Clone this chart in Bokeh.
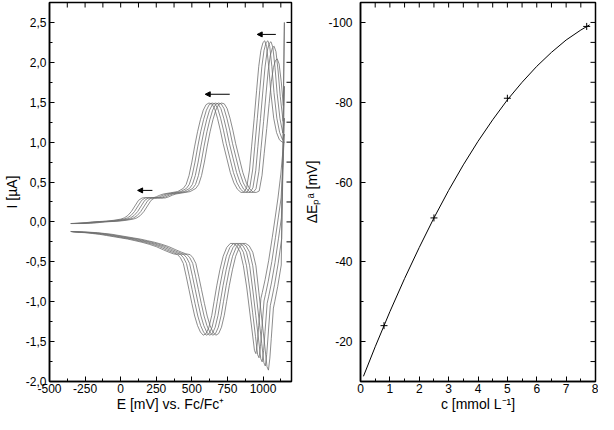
import math
from bokeh.plotting import figure
from bokeh.models import (Range1d, SingleIntervalTicker,
                          CustomJSTickFormatter, Arrow, NormalHead)
from bokeh.layouts import row
from bokeh.embed import file_html
from bokeh.resources import INLINE

# ---------------- data: cyclic voltammograms (left panel) ----------------
# base forward scan (leftmost curve), E in mV vs Fc/Fc+, I in uA
fwd_E = [-440, -350, -300, -250, -200, -150, -100, -50, 0, 25, 50, 75, 100, 125,
         150, 175, 200, 225, 250, 275, 300, 350, 400, 440, 460, 480, 500, 520,
         540, 560, 580, 600, 620, 640, 660, 680, 700, 720, 745, 770, 795, 820,
         845, 865, 885, 905, 920, 938, 955, 970, 985, 1000, 1012, 1025, 1040,
         1055, 1075, 1095, 1115, 1135, 1145]
fwd_I = [-0.02, -0.02, -0.015, -0.01, 0.0, 0.005, 0.01, 0.02, 0.035, 0.05, 0.08,
         0.13, 0.20, 0.27, 0.30, 0.305, 0.30, 0.30, 0.315, 0.335, 0.35, 0.365,
         0.38, 0.42, 0.47, 0.58, 0.75, 0.95, 1.13, 1.28, 1.40, 1.47, 1.49, 1.48,
         1.42, 1.30, 1.15, 0.98, 0.80, 0.62, 0.49, 0.41, 0.37, 0.37, 0.43, 0.65,
         0.95, 1.30, 1.65, 1.95, 2.15, 2.25, 2.27, 2.20, 1.95, 1.62, 1.30, 1.12,
         1.03, 1.00, 1.00]
# base reverse scan (leftmost curve)
rev_E = [1145, 1125, 1105, 1085, 1065, 1040, 1015, 995, 985, 970, 960, 950, 940,
         925, 905, 885, 862, 840, 815, 790, 770, 745, 720, 697, 675, 656, 640,
         620, 600, 580, 560, 540, 520, 500, 480, 460, 440, 420, 400, 370, 340,
         300, 250, 200, 150, 100, 50, 0, -50, -100, -150, -200, -250, -300, -350,
         -440]
rev_I = [1.00, 0.60, 0.30, 0.05, -0.20, -0.50, -0.75, -0.92, -1.00, -1.35, -1.58,
         -1.72, -1.68, -1.45, -1.15, -0.85, -0.55, -0.38, -0.30, -0.27, -0.27,
         -0.32, -0.43, -0.60, -0.80, -1.00, -1.17, -1.32, -1.40, -1.42, -1.38,
         -1.30, -1.18, -1.02, -0.85, -0.68, -0.52, -0.45, -0.41, -0.40, -0.38,
         -0.35, -0.31, -0.28, -0.255, -0.235, -0.215, -0.20, -0.185, -0.17,
         -0.155, -0.145, -0.135, -0.13, -0.125, -0.12]
cv_shift = [0, 22, 44, 66, 88]              # potential shift of each curve, mV
cv_I_switch = [1.0, 1.1, 1.3, 1.7, 2.5]      # current at switching potential
cv_peak2_fwd = [1.0, 1.0, 0.995, 0.97, 0.90]  # relative height of 2nd anodic peak
cv_peak2_rev = [0.96, 0.99, 1.02, 1.05, 1.08]  # relative depth of 2nd cathodic peak
E_peak2_from = 880
E_start = -350
E_switch = 1150

# arrows (start E, end E, I)
arrow_E0 = [223, 766, 1090]
arrow_E1 = [119, 594, 959]
arrow_I = [0.395, 1.60, 2.35]

# ---------------- data: peak shift vs concentration (right panel) ----------------
c_pts = [0.8, 2.5, 5.0, 7.7]
dE_pts = [-24, -51, -81, -99]
c_fit = [0.1, 0.5, 1, 1.5, 2, 2.5, 3, 3.5, 4, 4.5, 5, 5.5, 6, 6.5, 7, 7.5, 7.8]
dE_fit = [-11.3, -18.7, -27.5, -35.8, -43.6, -51.0, -57.9, -64.3, -70.2, -75.6,
          -80.6, -85.0, -89.0, -92.5, -95.6, -98.1, -99.4]

FONT = "Liberation Sans"


def style_axis(ax, standoff):
    ax.axis_line_color = "black"
    ax.axis_line_width = 1.5
    ax.major_tick_in = 5
    ax.major_tick_out = 0
    ax.minor_tick_in = 3
    ax.minor_tick_out = 0
    ax.major_tick_line_color = "black"
    ax.minor_tick_line_color = "black"
    ax.major_label_text_font = FONT
    ax.major_label_text_font_size = "12px"
    ax.major_label_text_color = "black"
    ax.major_label_text_line_height = 1.0
    ax.major_label_standoff = standoff
    ax.axis_label_text_font = FONT
    ax.axis_label_text_font_size = "14px"
    ax.axis_label_text_font_style = "normal"
    ax.axis_label_text_color = "black"
    ax.axis_label_text_line_height = 1.0


def frange(a, b, step):
    n = int(round((b - a) / step))
    return [a + k * step for k in range(n + 1)]


def mirror_ticks(p, xr, yr, xstep, ystep):
    # inward tick marks on the top and right frame edges
    xt = frange(xr[0], xr[1], xstep)
    p.ray(x=xt, y=[yr[1]] * len(xt), length=5, length_units="screen",
          angle=-math.pi / 2, line_color="black", line_width=1)
    yt = frange(yr[0], yr[1], ystep)
    p.ray(x=[xr[1]] * len(yt), y=yt, length=5, length_units="screen",
          angle=math.pi, line_color="black", line_width=1)


def base_fig(w, xr, yr, mbl, mbr):
    p = figure(width=w, height=414, x_range=Range1d(*xr), y_range=Range1d(*yr),
               output_backend="svg", toolbar_location=None,
               min_border_left=mbl, min_border_right=mbr,
               min_border_top=2, min_border_bottom=0)
    p.xgrid.grid_line_color = None
    p.ygrid.grid_line_color = None
    p.outline_line_color = "black"
    p.outline_line_width = 1.5
    p.background_fill_color = "white"
    p.border_fill_color = "white"
    return p


int_fmt = CustomJSTickFormatter(code="return Math.round(tick).toString();")
dec_fmt = CustomJSTickFormatter(
    code="if (Math.abs(tick) < 1e-9) { tick = 0; } return tick.toFixed(1).replace('.', ',');")

# ---------------- left panel ----------------
E_range = (-500, 1200)
I_range = (-2.0, 2.75)
p1 = base_fig(301, E_range, I_range, 41, 10)
p1.xaxis.ticker = SingleIntervalTicker(interval=250, num_minor_ticks=2)
p1.yaxis.ticker = SingleIntervalTicker(interval=0.5, num_minor_ticks=2)
p1.xaxis.formatter = int_fmt
p1.yaxis.formatter = dec_fmt
style_axis(p1.xaxis[0], 2)
style_axis(p1.yaxis[0], 3)
p1.xaxis.axis_label = "E [mV] vs. Fc/Fc\u207a"
p1.yaxis.axis_label = "I [\u00b5A]"
p1.xaxis.axis_label_standoff = 0
p1.yaxis.axis_label_standoff = 3
mirror_ticks(p1, E_range, I_range, 125, 0.25)

for k, s in enumerate(cv_shift):
    xs = [E_start]
    ys = [fwd_I[0]]
    for e, i in zip(fwd_E, fwd_I):
        if E_start < e + s < E_switch - 4:
            xs.append(e + s)
            ys.append(i * cv_peak2_fwd[k] if e > E_peak2_from else i)
    xs.append(E_switch)
    ys.append(cv_I_switch[k])
    for e, i in zip(rev_E, rev_I):
        if E_start < e + s < E_switch - 4:
            xs.append(e + s)
            ys.append(i * cv_peak2_rev[k] if (e > E_peak2_from and i < 0) else i)
    xs.append(E_start)
    ys.append(rev_I[-1])
    p1.line(xs, ys, line_color="#6e6e6e", line_width=0.8)

for e0, e1, i in zip(arrow_E0, arrow_E1, arrow_I):
    p1.add_layout(Arrow(x_start=e0, y_start=i, x_end=e1, y_end=i,
                        line_color="black", line_width=1,
                        end=NormalHead(size=5, fill_color="black", line_color="black")))

# ---------------- right panel ----------------
c_range = (0, 8)
dE_range = (-10, -105)
p2 = base_fig(297, c_range, dE_range, 55, 3)
p2.xaxis.ticker = SingleIntervalTicker(interval=1, num_minor_ticks=2)
p2.yaxis.ticker = SingleIntervalTicker(interval=20, num_minor_ticks=2)
p2.xaxis.formatter = int_fmt
p2.yaxis.formatter = int_fmt
style_axis(p2.xaxis[0], 2)
style_axis(p2.yaxis[0], 8)
p2.xaxis.axis_label = "c [mmol L\u207b\u00b9]"
p2.yaxis.axis_label = "\u0394E\u209a\u1d43 [mV]"
p2.xaxis.axis_label_standoff = 0
p2.yaxis.axis_label_standoff = 5
mirror_ticks(p2, c_range, dE_range, 0.5, -5)

p2.line(c_fit, dE_fit, line_color="black", line_width=1)
p2.scatter(c_pts, dE_pts, marker="cross", size=7, line_color="black", line_width=1)

layout = row(p1, p2)
open("out.html", "w").write(file_html(layout, INLINE))
